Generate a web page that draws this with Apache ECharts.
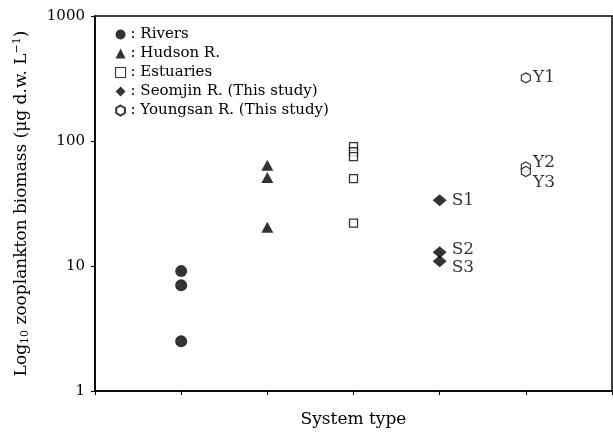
<!DOCTYPE html>
<html>
<head>
<meta charset="utf-8">
<script src="https://cdn.jsdelivr.net/npm/echarts@6/dist/echarts.min.js"></script>
<style>
  html, body { margin: 0; padding: 0; background: #fff; }
  #chart { width: 613px; height: 434px; }
</style>
</head>
<body>
<div id="chart"></div>
<script>
// Zooplankton biomass (µg d.w. per litre) by system type, log scale
const systemNames = ['Rivers', 'Hudson R.', 'Estuaries', 'Seomjin R. (This study)', 'Youngsan R. (This study)'];
const systemPos = [1, 2, 3, 4, 5];

const riversVals = [9.1, 7.0, 2.5];
const hudsonVals = [64, 51, 20.4];
const estuaryVals = [90, 82, 75, 50, 22];
const seomjinVals = [33.5, 12.9, 10.9];
const seomjinLabels = ['S1', 'S2', 'S3'];
const youngsanVals = [320, 62, 57];
const youngsanLabels = ['Y1', 'Y2', 'Y3'];

const yTicks = [1, 10, 100, 1000];

const FONT = 'DejaVu Serif';
const hexagon = 'path://M0,-1L0.866,-0.5L0.866,0.5L0,1L-0.866,0.5L-0.866,-0.5Z';

function pts(x, vals) { return vals.map(v => [x, v]); }

// label offsets for the site codes so stacked markers stay readable
const seomjinOffsets = [[0, 0], [0, -3], [0, 6]];
const youngsanOffsets = [[0, 0], [0, -4], [0, 11]];

function labelled(x, vals, names, offsets) {
  return vals.map((v, i) => ({
    value: [x, v],
    label: { show: true, formatter: names[i], offset: offsets[i] }
  }));
}

function labelStyle(dist) {
  return {
    position: 'right', distance: dist, color: '#000',
    fontFamily: FONT, fontSize: 17
  };
}

const chart = echarts.init(document.getElementById('chart'), null, { renderer: 'canvas' });

chart.setOption({
  animation: false,
  backgroundColor: '#fff',
  grid: {
    left: 95, right: 1, top: 16, bottom: 43,
    containLabel: false, outerBoundsMode: 'none',
    show: true, borderColor: '#000', borderWidth: 1.5, backgroundColor: 'transparent'
  },
  legend: {
    orient: 'vertical',
    left: 110, top: 22,
    itemWidth: 10, itemHeight: 10, itemGap: 4,
    textStyle: { fontFamily: FONT, fontSize: 15, color: '#000' },
    formatter: name => ': ' + name,
    data: [
      { name: systemNames[0] },
      { name: systemNames[1] },
      { name: systemNames[2], itemStyle: { borderWidth: 1.1 } },
      { name: systemNames[3] },
      { name: systemNames[4] }
    ]
  },
  xAxis: {
    type: 'value', min: 0, max: 6, interval: 1,
    name: 'System type', nameLocation: 'middle', nameGap: 20,
    nameTextStyle: { fontFamily: FONT, fontSize: 17, color: '#000' },
    axisLine: { lineStyle: { color: '#000', width: 1.5 } },
    axisTick: { show: true, inside: false, length: 4, lineStyle: { color: '#000', width: 1 } },
    axisLabel: { show: false },
    splitLine: { show: false }
  },
  yAxis: {
    type: 'log', logBase: 10, min: yTicks[0], max: yTicks[yTicks.length - 1],
    name: '{a|Log}{sub|10}{a| zooplankton biomass (μg d.w. L}{sup|−1}{a|)}',
    nameLocation: 'middle', nameGap: 64, nameRotate: 90,
    nameTextStyle: {
      fontFamily: FONT, fontSize: 17, color: '#000',
      rich: {
        a: { fontFamily: FONT, fontSize: 17, color: '#000' },
        sub: { fontFamily: FONT, fontSize: 11, color: '#000', verticalAlign: 'bottom', padding: [8, 0, 0, 0] },
        sup: { fontFamily: FONT, fontSize: 11, color: '#000', verticalAlign: 'top', padding: [0, 0, 8, 0] }
      }
    },
    axisLine: { show: true, lineStyle: { color: '#000', width: 1.5 } },
    axisTick: { show: true, inside: false, length: 4, lineStyle: { color: '#000', width: 1 } },
    axisLabel: {
      fontFamily: FONT, fontSize: 15, color: '#000', margin: 10,
      formatter: v => String(Math.round(v))
    },
    splitLine: { show: false },
    minorTick: { show: false }
  },
  series: [
    {
      name: systemNames[0], type: 'scatter', symbol: 'circle', symbolSize: 12,
      itemStyle: { color: '#000' },
      data: pts(systemPos[0], riversVals)
    },
    {
      name: systemNames[1], type: 'scatter', symbol: 'triangle', symbolSize: [12, 11],
      itemStyle: { color: '#000' },
      data: pts(systemPos[1], hudsonVals)
    },
    {
      name: systemNames[2], type: 'scatter', symbol: 'rect', symbolSize: 8,
      itemStyle: { color: '#fff', borderColor: '#000', borderWidth: 1.3 },
      data: pts(systemPos[2], estuaryVals)
    },
    {
      name: systemNames[3], type: 'scatter', symbol: 'diamond', symbolSize: [14, 12],
      itemStyle: { color: '#000' },
      label: labelStyle(5),
      data: labelled(systemPos[3], seomjinVals, seomjinLabels, seomjinOffsets)
    },
    {
      name: systemNames[4], type: 'scatter', symbol: hexagon, symbolSize: [9, 10],
      itemStyle: { color: '#fff', borderColor: '#000', borderWidth: 1.2 },
      label: labelStyle(2),
      data: labelled(systemPos[4], youngsanVals, youngsanLabels, youngsanOffsets)
    }
  ]
});
</script>
</body>
</html>
